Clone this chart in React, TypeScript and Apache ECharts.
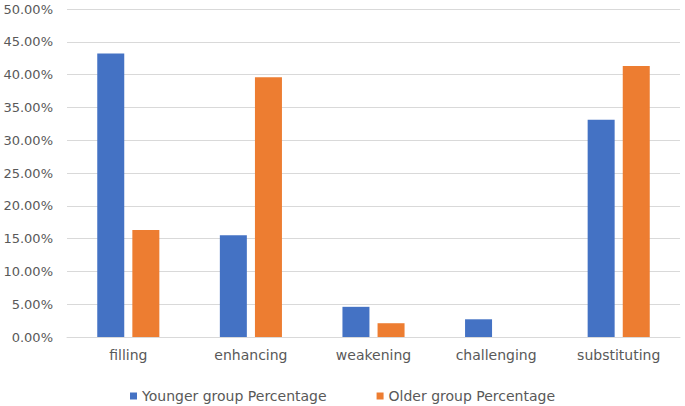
import React, { useEffect, useRef } from "react";
import * as echarts from "echarts";

const categories = ["filling", "enhancing", "weakening", "challenging", "substituting"];
const youngerValues = [43.2, 15.5, 4.6, 2.7, 33.1];
const olderValues = [16.3, 39.6, 2.1, 0, 41.3];
const seriesNames = ["Younger group Percentage", "Older group Percentage"];

export default function App() {
  const ref = useRef<HTMLDivElement>(null);
  useEffect(() => {
    document.body.style.margin = "0";
    const chart = echarts.init(ref.current!, undefined, { renderer: "svg" });
    const font = "DejaVu Sans";
    chart.setOption({
      animation: false,
      textStyle: { fontFamily: font },
      grid: { left: 67, right: 5, top: 9, bottom: 69, containLabel: false },
      legend: {
        left: 125,
        top: 384,
        icon: "rect",
        itemWidth: 7,
        itemHeight: 7,
        itemGap: 50,
        textStyle: { color: "#595959", fontSize: 14, fontFamily: font },
        data: seriesNames,
      },
      xAxis: {
        type: "category",
        data: categories,
        axisLine: { lineStyle: { color: "#D9D9D9" } },
        axisTick: { show: false },
        axisLabel: { color: "#595959", fontSize: 14, margin: 11, fontFamily: font },
      },
      yAxis: {
        type: "value",
        min: 0,
        max: 50,
        interval: 5,
        axisLine: { show: false },
        axisTick: { show: false },
        splitLine: { lineStyle: { color: "#D9D9D9" } },
        axisLabel: {
          color: "#595959",
          fontSize: 13,
          margin: 14,
          fontFamily: font,
          formatter: (v: number) => v.toFixed(2) + "%",
        },
      },
      series: [
        {
          name: seriesNames[0],
          type: "bar",
          data: youngerValues,
          barWidth: 27,
          barGap: "30%",
          itemStyle: { color: "#4472C4" },
        },
        {
          name: seriesNames[1],
          type: "bar",
          data: olderValues,
          barWidth: 27,
          itemStyle: { color: "#ED7D31" },
        },
      ],
    });
    return () => chart.dispose();
  }, []);
  return <div ref={ref} style={{ width: 685, height: 406 }} />;
}
